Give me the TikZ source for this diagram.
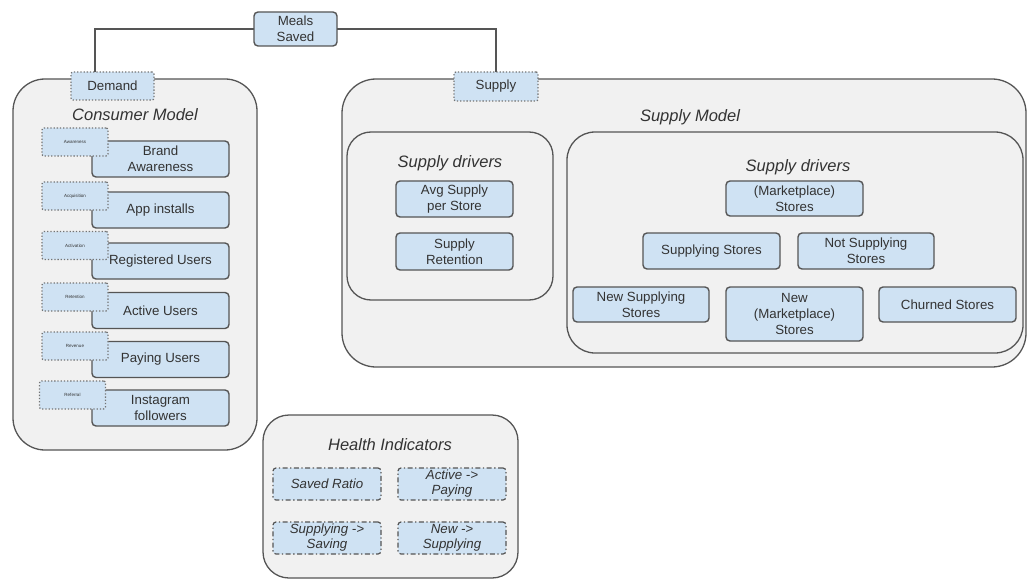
\documentclass[tikz,border=0pt]{standalone}
\usepackage{fontspec}
\setmainfont{Liberation Sans}
\definecolor{edge}{HTML}{555555}
\definecolor{dotc}{HTML}{747474}
\definecolor{panel}{HTML}{F1F1F1}
\definecolor{chip}{HTML}{CFE2F3}
\definecolor{txt}{HTML}{333333}
\begin{document}
\begin{tikzpicture}[x=1pt,y=-1pt,
  every node/.style={inner sep=0pt, outer sep=0pt, text=txt},
  container/.style={draw=edge, fill=panel, line width=1.3pt, rounded corners=#1},
  heading/.style={font=\fontsize{16.5}{19}\selectfont\itshape},
  metric/.style={draw=edge, fill=chip, line width=1.4pt, rounded corners=4pt, align=center,
    font=\fontsize{13.3}{16}\selectfont},
  stage/.style={draw=dotc, fill=chip, line width=1.3pt, dash pattern=on 1.3pt off 1.9pt,
    rounded corners=2pt, minimum width=66pt, minimum height=28pt, font=\fontsize{4.5}{5}\selectfont},
  hook/.style={draw=dotc, fill=chip, line width=1.3pt, dash pattern=on 1.3pt off 1.9pt,
    rounded corners=2pt, font=\fontsize{13.3}{15}\selectfont},
  indicator/.style={draw=edge, fill=chip, line width=1.2pt, dash pattern=on 5pt off 2.5pt on 1.3pt off 2.5pt,
    rounded corners=3pt, align=center, minimum width=108pt, minimum height=32pt,
    font=\fontsize{13.3}{15}\selectfont\itshape},
  wire/.style={draw=edge, line width=1.3pt}
]
\useasboundingbox (0,0) rectangle (1027,580);

% model panels
\node[container=32pt, minimum width=244pt, minimum height=371pt] (consumer) at (135,264.5) {};
\node[container=34pt, minimum width=684pt, minimum height=288pt] (supplymodel) at (684,223) {};
\node[container=26pt, minimum width=255pt, minimum height=163pt] (health) at (390.5,496.5) {};

% top metric and its two branches
\node[metric, minimum width=83pt, minimum height=34pt] (meals) at (295.5,29) {Meals\\Saved};
\node[hook, minimum width=83pt, minimum height=28pt] (demand) at (112.5,86) {Demand};
\node[hook, minimum width=84pt, minimum height=29pt] (supply) at (496,86.5) {Supply};
\draw[wire] (meals.west) -| ([xshift=24pt]demand.north west);
\draw[wire] (meals.east) -| (supply.north);

% consumer funnel
\node[heading] (cmtitle) at (135,115) {Consumer Model};
\node[metric, minimum width=137pt, minimum height=36pt] (brand) at (160.5,159) {Brand\\Awareness};
\node[stage] (awareness) at (75,142) {Awareness};
\node[metric, minimum width=137pt, minimum height=36pt] (installs) at (160.5,210) {App installs};
\node[stage] (acquisition) at (75,196) {Acquisition};
\node[metric, minimum width=137pt, minimum height=36pt] (registered) at (160.5,261) {Registered Users};
\node[stage] (activation) at (75,245.5) {Activation};
\node[metric, minimum width=137pt, minimum height=36pt] (active) at (160.5,310.5) {Active Users};
\node[stage] (retention) at (75,297) {Retention};
\node[metric, minimum width=137pt, minimum height=36pt] (paying) at (160.5,359.5) {Paying Users};
\node[stage] (revenue) at (75,346) {Revenue};
\node[metric, minimum width=137pt, minimum height=36pt] (insta) at (160.5,408) {Instagram\\followers};
\node[stage] (referral) at (72.5,395) {Referral};

% supply model
\node[heading] (smtitle) at (690,117) {Supply Model};
\node[container=24pt, minimum width=206pt, minimum height=168pt] (driversA) at (450,216) {};
\node[heading] (datitle) at (450,163) {Supply drivers};
\node[metric, minimum width=117pt, minimum height=36pt] (avg) at (454.5,199) {Avg Supply\\per Store};
\node[metric, minimum width=117pt, minimum height=37pt] (retain) at (454.5,251.5) {Supply\\Retention};

\node[container=28pt, minimum width=456pt, minimum height=221pt] (driversB) at (795,242.5) {};
\node[heading] (dbtitle) at (798,167) {Supply drivers};
\node[metric, minimum width=137pt, minimum height=35pt] (stores) at (794.5,198.5) {(Marketplace)\\Stores};
\node[metric, minimum width=137pt, minimum height=36pt] (supplying) at (711.5,251) {Supplying Stores};
\node[metric, minimum width=136pt, minimum height=36pt] (notsupplying) at (866,251) {Not Supplying\\Stores};
\node[metric, minimum width=136pt, minimum height=35pt] (newsupplying) at (641,304.5) {New Supplying\\Stores};
\node[metric, minimum width=137pt, minimum height=54pt] (newstores) at (794.5,314) {New\\(Marketplace)\\Stores};
\node[metric, minimum width=137pt, minimum height=35pt] (churned) at (947.5,304.5) {Churned Stores};

% health indicators
\node[heading] (hitle) at (390,445) {Health Indicators};
\node[indicator] (ratio) at (327,484) {Saved Ratio};
\node[indicator] (actpay) at (452,484) {Active ->\\Paying};
\node[indicator] (supsave) at (327,538) {Supplying ->\\Saving};
\node[indicator] (newsup) at (452,538) {New ->\\Supplying};
\end{tikzpicture}
\end{document}
